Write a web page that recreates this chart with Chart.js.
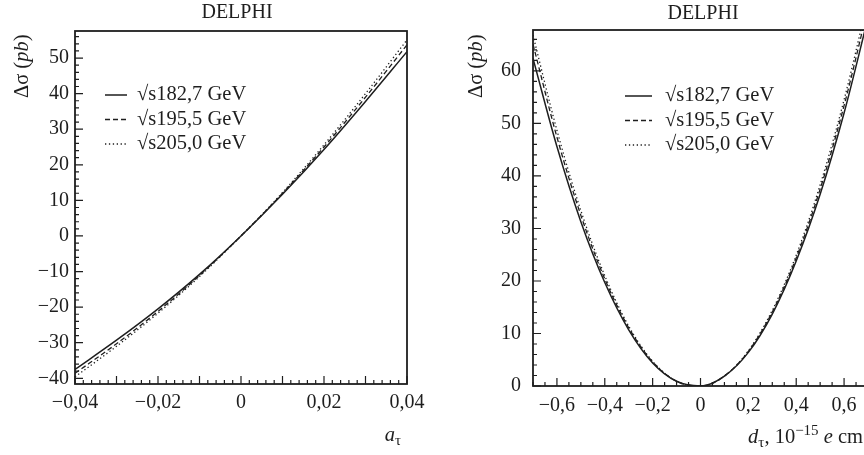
<!DOCTYPE html>
<html>
<head>
<meta charset="utf-8">
<script src="https://cdn.jsdelivr.net/npm/chart.js@4.4.0/dist/chart.umd.min.js"></script>
<style>
  html, body { margin: 0; padding: 0; background: #fff; overflow: hidden; width: 864px; height: 455px; }
  canvas { position: absolute; top: 0; }
  #left { left: 0; }
  #right { left: 432px; }
</style>
</head>
<body>
<canvas id="left" width="432" height="455"></canvas>
<canvas id="right" width="450" height="455"></canvas>
<script>
// series labels
const energies = ["√s182,7 GeV", "√s195,5 GeV", "√s205,0 GeV"];

// left panel: delta sigma vs a_tau
const aTau = [-0.04, -0.03, -0.02, -0.01, 0, 0.01, 0.02, 0.03, 0.04];
const aSolid = [-37.5, -29.3, -20.5, -10.8, 0, 11.7, 24.3, 37.8, 51.8];
const aDashed = [-38.6, -30.3, -21.2, -11.1, 0, 12.0, 25.0, 39.0, 53.7];
const aDotted = [-39.6, -31.0, -21.7, -11.4, 0, 12.2, 25.6, 40.0, 55.1];
const aXTicks = [-0.04, -0.02, 0, 0.02, 0.04];
const aYTicks = [-40, -30, -20, -10, 0, 10, 20, 30, 40, 50];

// right panel: delta sigma vs d_tau
const dTau = [-0.7, -0.6, -0.5, -0.4, -0.3, -0.2, -0.1, 0, 0.1, 0.2, 0.3, 0.4, 0.5, 0.6, 0.7];
const dSolid = [62.4, 45.6, 31.3, 19.7, 10.7, 4.4, 0.9, 0, 1.9, 6.4, 13.7, 23.8, 36.5, 52.0, 70.1];
const dDashed = [65.1, 47.4, 32.5, 20.4, 11.1, 4.6, 0.9, 0, 1.9, 6.6, 14.1, 24.4, 37.5, 53.4, 72.1];
const dDotted = [66.8, 48.7, 33.4, 21.0, 11.4, 4.7, 0.9, 0, 1.9, 6.7, 14.4, 24.9, 38.3, 54.5, 73.6];
const dXTicks = [-0.6, -0.4, -0.2, 0, 0.2, 0.4, 0.6];
const dYTicks = [0, 10, 20, 30, 40, 50, 60];

const serif = '"Liberation Serif", "DejaVu Serif", "Times New Roman", serif';
const ink = '#1e1e1e';
const tickSize = 20;
const textSize = 20.5;
const lineStyles = [
  { borderWidth: 1.5, borderDash: [] },
  { borderWidth: 1.3, borderDash: [5, 3] },
  { borderWidth: 1.3, borderDash: [1.3, 2.6] }
];

function fmt(v, dec) {
  if (Math.abs(v) < 1e-9) return "0";
  return v.toFixed(dec).replace(".", ",").replace("-", "\u2212");
}

function toPoints(xs, ys) {
  return xs.map((x, i) => ({ x: x, y: ys[i] }));
}

// draw a run of text pieces (italic, sub/superscript) on one baseline
function drawRich(ctx, parts, x, y, align) {
  const sizes = parts.map(p => {
    ctx.font = (p.it ? "italic " : "") + (p.size || textSize) + "px " + serif;
    return ctx.measureText(p.t).width;
  });
  const total = sizes.reduce((s, w) => s + w, 0);
  let cx = align === "right" ? x - total : align === "center" ? x - total / 2 : x;
  parts.forEach((p, i) => {
    ctx.font = (p.it ? "italic " : "") + (p.size || textSize) + "px " + serif;
    ctx.fillText(p.t, cx, y + (p.dy || 0));
    cx += sizes[i];
  });
}

const decor = {
  id: "decor",
  afterDatasetsDraw(chart, args, o) {
    const { ctx, chartArea: a, scales: { x, y } } = chart;
    ctx.save();
    ctx.strokeStyle = ink;
    ctx.fillStyle = ink;

    // frame
    ctx.lineWidth = 1.8;
    ctx.strokeRect(a.left, a.top, a.right - a.left, a.bottom - a.top);

    // inner ticks, major and minor
    ctx.lineWidth = 1.2;
    ctx.beginPath();
    const ratioX = Math.round(o.xMajor / o.xMinor);
    for (let n = Math.ceil(x.min / o.xMinor - 1e-6); n * o.xMinor <= x.max + 1e-9; n++) {
      const px = x.getPixelForValue(n * o.xMinor);
      ctx.moveTo(px, a.bottom);
      ctx.lineTo(px, a.bottom - (n % ratioX === 0 ? 8 : 4));
    }
    const ratioY = Math.round(o.yMajor / o.yMinor);
    for (let n = Math.ceil(y.min / o.yMinor - 1e-6); n * o.yMinor <= y.max + 1e-9; n++) {
      const py = y.getPixelForValue(n * o.yMinor);
      ctx.moveTo(a.left, py);
      ctx.lineTo(a.left + (n % ratioY === 0 ? 8 : 4), py);
    }
    ctx.stroke();

    // title
    ctx.textBaseline = "middle";
    ctx.textAlign = "center";
    ctx.font = "20px " + serif;
    ctx.fillText("DELPHI", o.titleX, o.titleY);

    // legend
    ctx.textAlign = "left";
    chart.data.datasets.forEach((ds, i) => {
      const ly = o.legY + i * o.legDy;
      ctx.lineWidth = ds.borderWidth;
      ctx.setLineDash(ds.borderDash);
      ctx.beginPath();
      ctx.moveTo(o.legX, ly);
      ctx.lineTo(o.legX + o.legLen, ly);
      ctx.stroke();
      ctx.setLineDash([]);
      ctx.font = textSize + "px " + serif;
      ctx.fillText(ds.label, o.legX + o.legLen + o.legGap, ly);
    });

    // y axis title, rotated
    ctx.save();
    ctx.translate(o.yTitleX, o.yTitleY);
    ctx.rotate(-Math.PI / 2);
    ctx.textBaseline = "middle";
    drawRich(ctx, [{ t: "Δσ (" }, { t: "pb", it: true }, { t: ")" }], 0, 0, "left");
    ctx.restore();

    // x axis title
    ctx.textBaseline = "alphabetic";
    drawRich(ctx, o.xTitle, o.xTitleX, o.xTitleY, "right");
    ctx.restore();
  }
};

function makePanel(id, cfg) {
  const canvas = document.getElementById(id);
  const H = canvas.height;
  return new Chart(canvas, {
    type: "line",
    data: {
      datasets: cfg.series.map((ys, i) => ({
        label: energies[i],
        data: toPoints(cfg.xs, ys),
        borderColor: ink,
        borderWidth: lineStyles[i].borderWidth,
        borderDash: lineStyles[i].borderDash,
        pointRadius: 0,
        fill: false,
        cubicInterpolationMode: "monotone"
      }))
    },
    options: {
      responsive: false,
      animation: false,
      devicePixelRatio: 1,
      layout: { padding: { top: cfg.top, right: cfg.padRight, left: 0, bottom: 0 } },
      plugins: {
        legend: { display: false },
        tooltip: { enabled: false },
        decor: cfg.decor
      },
      scales: {
        x: {
          type: "linear",
          min: cfg.xMin,
          max: cfg.xMax,
          grid: { display: false, drawTicks: false },
          border: { display: false },
          ticks: {
            autoSkip: false,
            maxRotation: 0,
            padding: cfg.xPad,
            color: ink,
            font: { family: serif, size: tickSize },
            callback: v => fmt(v, cfg.xDec)
          },
          afterBuildTicks: s => { s.ticks = cfg.xTicks.map(v => ({ value: v })); },
          afterFit: s => { s.height = H - cfg.bottom; }
        },
        y: {
          type: "linear",
          min: cfg.yMin,
          max: cfg.yMax,
          grid: { display: false, drawTicks: false },
          border: { display: false },
          ticks: {
            autoSkip: false,
            padding: cfg.yPad,
            color: ink,
            font: { family: serif, size: tickSize },
            callback: v => fmt(v, 0)
          },
          afterBuildTicks: s => { s.ticks = cfg.yTicks.map(v => ({ value: v })); },
          afterFit: s => { s.width = cfg.left; }
        }
      }
    },
    plugins: [decor]
  });
}

makePanel("left", {
  xs: aTau,
  series: [aSolid, aDashed, aDotted],
  xMin: -0.04, xMax: 0.04, yMin: -41.6, yMax: 57.6,
  xTicks: aXTicks, yTicks: aYTicks, xDec: 2,
  top: 31, bottom: 384, left: 75, padRight: 25,
  xPad: 7, yPad: 6,
  decor: {
    xMinor: 0.002, xMajor: 0.01, yMinor: 2, yMajor: 10,
    titleX: 237, titleY: 13,
    legX: 105, legLen: 22, legGap: 10, legY: 95, legDy: 24.5,
    yTitleX: 23, yTitleY: 98,
    xTitle: [{ t: "a", it: true }, { t: "τ", size: 15, dy: 4 }],
    xTitleX: 401, xTitleY: 441
  }
});

makePanel("right", {
  xs: dTau,
  series: [dSolid, dDashed, dDotted],
  xMin: -0.7, xMax: 0.7, yMin: 0, yMax: 67.8,
  xTicks: dXTicks, yTicks: dYTicks, xDec: 1,
  top: 30, bottom: 386, left: 101, padRight: 14,
  xPad: 8, yPad: 12,
  decor: {
    xMinor: 0.05, xMajor: 0.2, yMinor: 2, yMajor: 10,
    titleX: 271, titleY: 14,
    legX: 193, legLen: 27, legGap: 13, legY: 96, legDy: 24.5,
    yTitleX: 45, yTitleY: 98,
    xTitle: [
      { t: "d", it: true }, { t: "τ", size: 15, dy: 4 }, { t: ", 10" },
      { t: "−15", size: 15, dy: -8 }, { t: " " }, { t: "e", it: true }, { t: " cm" }
    ],
    xTitleX: 431, xTitleY: 443
  }
});
</script>
</body>
</html>
